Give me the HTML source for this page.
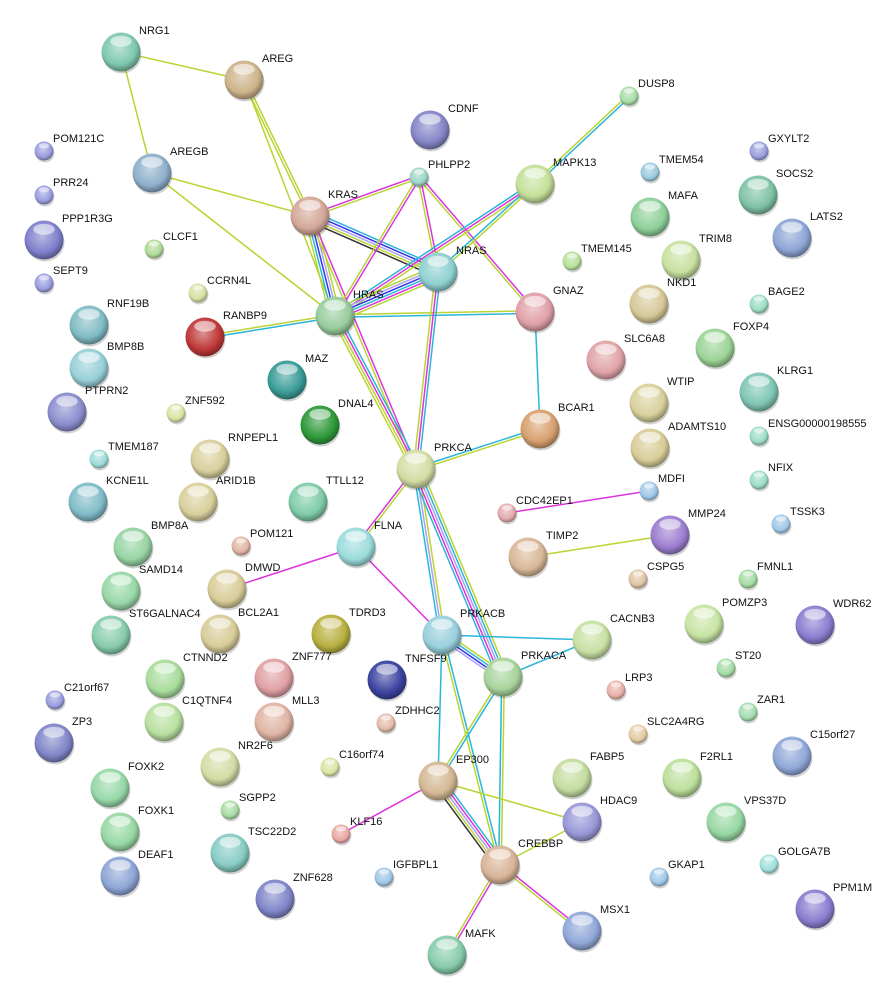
<!DOCTYPE html>
<html><head><meta charset="utf-8">
<style>
html,body{margin:0;padding:0;background:#fff;width:885px;height:999px;overflow:hidden}
svg{display:block}
text{font-family:"Liberation Sans",sans-serif;font-size:11px;fill:#111}
</style></head>
<body>
<svg id="s" width="885" height="999" viewBox="0 0 885 999" xmlns="http://www.w3.org/2000/svg">
<defs id="d"></defs>
<g id="e"></g>
<g id="n"></g>
</svg>
<script>
var N={
NRG1:[121,52,1,'#7fc9b0'],AREG:[244,80,1,'#cdb48a'],POM121C:[44,151,0,'#9a9ede'],PRR24:[44,195,0,'#9a9ede'],
PPP1R3G:[44,240,1,'#7f80cc'],SEPT9:[44,283,0,'#9a9ede'],AREGB:[152,173,1,'#8fb0cc'],CDNF:[430,130,1,'#8686c8'],
PHLPP2:[419,177,0,'#9cd6c4'],DUSP8:[629,96,0,'#a6dca6'],MAPK13:[535,184,1,'#c4e09a'],GXYLT2:[759,151,0,'#9a9ede'],
TMEM54:[650,172,0,'#9ccbe0'],SOCS2:[758,195,1,'#7fc2a6'],MAFA:[650,217,1,'#8ed09a'],LATS2:[792,238,1,'#8ea6d6'],
KRAS:[310,216,1,'#d4a898'],CLCF1:[154,249,0,'#b0da98'],TMEM145:[572,261,0,'#b8e09a'],TRIM8:[681,260,1,'#c8e0a0'],
NRAS:[438,272,1,'#8ed0d0'],GNAZ:[535,312,1,'#e0a0a8'],CCRN4L:[198,293,0,'#d6e0a0'],NKD1:[649,304,1,'#d6c898'],
BAGE2:[759,304,0,'#9cdcc4'],RNF19B:[89,325,1,'#80bcc4'],RANBP9:[205,337,1,'#c03838'],HRAS:[335,316,1,'#98cc9c'],
BMP8B:[89,368,1,'#98d0d8'],FOXP4:[715,348,1,'#9cd496'],SLC6A8:[606,360,1,'#e0a4a8'],MAZ:[287,380,1,'#3a9c98'],
KLRG1:[759,392,1,'#80c6b4'],PTPRN2:[67,412,1,'#8c8ece'],ZNF592:[176,413,0,'#d6e4a4'],WTIP:[649,403,1,'#d8d09c'],
DNAL4:[320,425,1,'#2e9a3a'],BCAR1:[540,429,1,'#d8a070'],ENSG00000198555:[759,436,0,'#9cdcc8'],TMEM187:[99,459,0,'#9cdcd8'],
RNPEPL1:[210,459,1,'#d8d09c'],ADAMTS10:[650,448,1,'#d8cc98'],PRKCA:[416,469,1,'#d4dca4'],NFIX:[759,480,0,'#9cdcc8'],
KCNE1L:[88,502,1,'#80bcc8'],ARID1B:[198,502,1,'#d8d09c'],TTLL12:[308,502,1,'#80cca8'],CDC42EP1:[507,513,0,'#e4aaac'],
MDFI:[649,491,0,'#a0c8e8'],MMP24:[670,535,1,'#9c7ed0'],TSSK3:[781,524,0,'#a0c8e8'],BMP8A:[133,547,1,'#98d4a4'],
POM121:[241,546,0,'#e0b4a4'],FLNA:[356,547,1,'#9cdcdc'],TIMP2:[528,557,1,'#d8b898'],SAMD14:[121,591,1,'#98d8a8'],
DMWD:[227,589,1,'#d8cc98'],CSPG5:[638,579,0,'#e0c4a4'],FMNL1:[748,579,0,'#a4dca4'],ST6GALNAC4:[111,635,1,'#88ccac'],
BCL2A1:[220,634,1,'#d8cc98'],TDRD3:[331,634,1,'#b8b040'],PRKACB:[442,635,1,'#98d0dc'],CACNB3:[592,640,1,'#c8e0a4'],
POMZP3:[704,624,1,'#c8e4a4'],WDR62:[815,625,1,'#8a7ed0'],CTNND2:[165,679,1,'#a8dc9c'],ZNF777:[274,678,1,'#e0a0a4'],
TNFSF9:[387,680,1,'#3c44a0'],PRKACA:[503,677,1,'#a8d49c'],ST20:[726,668,0,'#a4dca4'],C21orf67:[55,700,0,'#9a9ede'],
LRP3:[616,690,0,'#e8b0a8'],MLL3:[274,722,1,'#e0b4a4'],ZDHHC2:[386,723,0,'#e4bca8'],C1QTNF4:[164,722,1,'#b8e0a0'],
ZP3:[54,743,1,'#8086c8'],SLC2A4RG:[638,734,0,'#e4cca4'],ZAR1:[748,712,0,'#a4dcb0'],C15orf27:[792,756,1,'#90a8d8'],
NR2F6:[220,767,1,'#d4dca4'],C16orf74:[330,767,0,'#dce4a4'],EP300:[438,781,1,'#d4b894'],FABP5:[572,778,1,'#c4dca0'],
F2RL1:[682,778,1,'#bce09c'],FOXK2:[110,788,1,'#98d8a8'],SGPP2:[230,810,0,'#a8dca4'],HDAC9:[582,822,1,'#9898d8'],
VPS37D:[726,822,1,'#98d8a4'],FOXK1:[120,832,1,'#98d8a4'],KLF16:[341,834,0,'#e8a8a4'],TSC22D2:[230,853,1,'#88ccc4'],
GKAP1:[659,877,0,'#a0c8e8'],GOLGA7B:[769,864,0,'#a0e0dc'],CREBBP:[500,865,1,'#d8b498'],IGFBPL1:[384,877,0,'#a0c8e8'],
DEAF1:[120,876,1,'#8ea6d6'],ZNF628:[275,899,1,'#8086c8'],PPM1M:[815,909,1,'#8a7ed0'],MSX1:[582,931,1,'#90a8d8'],
MAFK:[447,955,1,'#88ccac']};
var C={Y:'#b9d433',C:'#29b6d8',M:'#dd33dd',K:'#333333',B:'#3333ee',L:'#a8a2f2'};
var E=[['NRG1','AREG','Y'],['NRG1','AREGB','Y'],['AREG','KRAS','YY'],['AREG','HRAS','Y'],['AREGB','KRAS','Y'],['AREGB','HRAS','Y'],
['KRAS','PHLPP2','MY'],['KRAS','NRAS','CBLYK'],['KRAS','HRAS','YLBCY'],['KRAS','PRKCA','MY'],['PHLPP2','HRAS','MY'],
['PHLPP2','NRAS','MY'],['PHLPP2','GNAZ','MY'],['MAPK13','HRAS','YMC'],['MAPK13','NRAS','YC'],['DUSP8','MAPK13','CY'],
['HRAS','NRAS','YLBCMY'],['HRAS','GNAZ','YC'],['HRAS','RANBP9','CY'],['HRAS','PRKCA','CMYY'],['NRAS','PRKCA','CMY'],
['GNAZ','BCAR1','C'],['BCAR1','PRKCA','YC'],['PRKCA','FLNA','YM'],['PRKCA','PRKACB','YLC'],['PRKCA','PRKACA','YCLMC'],
['FLNA','DMWD','M'],['FLNA','PRKACB','M'],['CDC42EP1','MDFI','M'],['TIMP2','MMP24','Y'],['PRKACB','CACNB3','C'],
['PRKACB','PRKACA','YCBL'],['PRKACB','EP300','C'],['PRKACB','CREBBP','CY'],['PRKACA','CACNB3','C'],['PRKACA','EP300','CY'],
['PRKACA','CREBBP','YC'],['EP300','CREBBP','CMLYK'],['EP300','HDAC9','Y'],['EP300','KLF16','M'],['CREBBP','HDAC9','Y'],
['CREBBP','MSX1','MY'],['CREBBP','MAFK','MY']];
var ns='http://www.w3.org/2000/svg';
function el(t,a,p){var x=document.createElementNS(ns,t);for(var k in a)x.setAttribute(k,a[k]);p.appendChild(x);return x;}
var eg=document.getElementById('e'),ng=document.getElementById('n'),dg=document.getElementById('d');
E.forEach(function(e){var a=N[e[0]],b=N[e[1]],dx=b[0]-a[0],dy=b[1]-a[1],L=Math.hypot(dx,dy),px=-dy/L,py=dx/L,n=e[2].length;
for(var i=0;i<n;i++){var o=(i-(n-1)/2)*2.6;el('line',{x1:a[0]+px*o,y1:a[1]+py*o,x2:b[0]+px*o,y2:b[1]+py*o,stroke:C[e[2][i]],'stroke-width':1.5},eg);}});
function sh(c,f){var r=parseInt(c.substr(1,2),16),g=parseInt(c.substr(3,2),16),b=parseInt(c.substr(5,2),16);
function m(v){return Math.max(0,Math.min(255,Math.round(f<0?v*(1+f):v+(255-v)*f)));}return 'rgb('+m(r)+','+m(g)+','+m(b)+')';}
var i=0;
for(var k in N){var v=N[k],r=v[2]?19.5:9.5,id='g'+(i++);
var gr=el('radialGradient',{id:id,cx:'0.45',cy:'0.4',r:'0.6'},dg);
el('stop',{offset:'0','stop-color':sh(v[3],0.45)},gr);el('stop',{offset:'0.7','stop-color':v[3]},gr);el('stop',{offset:'1','stop-color':sh(v[3],-0.35)},gr);
el('circle',{cx:v[0]+1,cy:v[1]+2,r:r,fill:'rgba(0,0,0,0.18)'},ng);
el('circle',{cx:v[0],cy:v[1],r:r,fill:'url(#'+id+')'},ng);
el('ellipse',{cx:v[0],cy:v[1]-r*0.55,rx:r*0.55,ry:r*0.28,fill:'rgba(255,255,255,0.55)'},ng);
var t=el('text',{x:v[0]+(v[2]?18:9),y:v[1]-(v[2]?18:9)},ng);t.textContent=k;}
</script>
</body></html>
